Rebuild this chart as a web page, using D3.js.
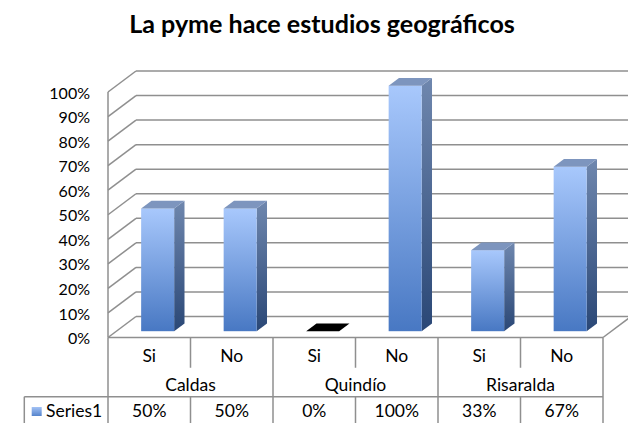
<!DOCTYPE html>
<html>
<head>
<meta charset="utf-8">
<script src="https://cdn.jsdelivr.net/npm/d3@7"></script>
<style>
  body { margin: 0; background: #fff; }
  text { font-family: Lato, "Open Sans", sans-serif; fill: #000; }
</style>
</head>
<body>
<script>
var groups = ["Caldas", "Quindío", "Risaralda"];
var answers = ["Si", "No"];
var values = [0.50, 0.50, 0.00, 1.00, 0.33, 0.67];
var seriesName = "Series1";
var title = "La pyme hace estudios geográficos";

var width = 628, height = 423;

// oblique 3d: front floor line and depth vector
var x0 = 108, x1 = 603, y0 = 337.5,
  depthX = 28, depthY = 21,
  plotH = 245.5,
  z1 = 0.3, z2 = 0.67;

var cats = [];
groups.forEach(function(g, gi) {
  answers.forEach(function(a, ai) {
    cats.push({key: g + "|" + a, group: g, answer: a, value: values[gi * answers.length + ai]});
  });
});

var x = d3.scaleBand()
  .domain(cats.map(function(d) { return d.key; }))
  .range([x0, x1])
  .paddingInner(0.6)
  .paddingOuter(0.3);

var y = d3.scaleLinear()
  .domain([0, 1])
  .range([0, plotH]);

var pct = d3.format(".0%");

function pt(px, v, z) {
  return [px + z * depthX, y0 - y(v) - z * depthY];
}

var svg = d3.select("body").append("svg")
  .attr("width", width)
  .attr("height", height);

var defs = svg.append("defs");
function grad(id, top, bottom) {
  var g = defs.append("linearGradient").attr("id", id)
    .attr("x1", 0).attr("y1", 0).attr("x2", 0).attr("y2", 1);
  g.append("stop").attr("offset", "0%").attr("stop-color", top);
  g.append("stop").attr("offset", "100%").attr("stop-color", bottom);
}
grad("front", "#a8c8fc", "#4878c3");
grad("side", "#6f87ae", "#2a4776");
grad("legend", "#a3c2f5", "#5584cc");

// title
var t = svg.append("text")
  .attr("x", 322)
  .attr("y", 33)
  .attr("text-anchor", "middle")
  .style("font-weight", "bold")
  .style("font-size", "24px")
  .text(title);
var tl = t.node().getComputedTextLength();
t.style("font-size", (24 * 386 / tl) + "px");

var ticks = y.ticks(10);
var grid = svg.append("g")
  .attr("stroke", "#8f8f8f")
  .attr("stroke-width", 1.5)
  .attr("fill", "none");

// back wall lines
grid.selectAll(".back")
  .data(ticks)
  .enter()
  .append("line")
  .attr("x1", function(d) { return pt(x0, d, 1)[0]; })
  .attr("x2", function(d) { return pt(x1, d, 1)[0] + 2; })
  .attr("y1", function(d) { return pt(x0, d, 1)[1]; })
  .attr("y2", function(d) { return pt(x0, d, 1)[1]; });

// side wall lines
grid.selectAll(".side")
  .data(ticks)
  .enter()
  .append("line")
  .attr("x1", function(d) { return pt(x0, d, 0)[0]; })
  .attr("y1", function(d) { return pt(x0, d, 0)[1]; })
  .attr("x2", function(d) { return pt(x0, d, 1)[0]; })
  .attr("y2", function(d) { return pt(x0, d, 1)[1]; });

// vertical axis line and floor edges
grid.append("line")
  .attr("x1", x0).attr("x2", x0)
  .attr("y1", pt(x0, 1, 0)[1]).attr("y2", y0);
grid.append("line")
  .attr("x1", pt(x1, 0, 0)[0]).attr("y1", pt(x1, 0, 0)[1])
  .attr("x2", pt(x1, 0, 1)[0]).attr("y2", pt(x1, 0, 1)[1]);

// y labels
svg.append("g").selectAll("text")
  .data(ticks)
  .enter()
  .append("text")
  .attr("x", 90)
  .attr("y", function(d) { return pt(x0, d, 0)[1] + 1; })
  .attr("dy", "0.35em")
  .attr("text-anchor", "end")
  .style("font-size", "16px")
  .text(pct);

// bars
var bw = x.bandwidth();
var bars = svg.append("g").selectAll("g")
  .data(cats)
  .enter()
  .append("g");

bars.append("path")
  .attr("fill", "url(#side)")
  .attr("d", function(d) {
    var bx = x(d.key) + bw;
    return "M" + [pt(bx, 0, z1), pt(bx, 0, z2), pt(bx, d.value, z2), pt(bx, d.value, z1)].join("L") + "Z";
  })
  .style("display", function(d) { return d.value > 0 ? null : "none"; });

bars.append("rect")
  .attr("fill", "url(#front)")
  .attr("x", function(d) { return pt(x(d.key), d.value, z1)[0]; })
  .attr("y", function(d) { return pt(x(d.key), d.value, z1)[1]; })
  .attr("width", bw)
  .attr("height", function(d) { return y(d.value); })
  .style("display", function(d) { return d.value > 0 ? null : "none"; });

bars.append("path")
  .attr("fill", function(d) { return d.value > 0 ? "#7d95be" : "#000"; })
  .attr("d", function(d) {
    var bx = x(d.key);
    return "M" + [pt(bx, d.value, z1), pt(bx + bw, d.value, z1), pt(bx + bw, d.value, z2), pt(bx, d.value, z2)].join("L") + "Z";
  });

// data table
var step = x.step();
var rowTop = y0, rowMid = 367.7, rowLine = 396.7, rowBottom = 430;
var table = svg.append("g")
  .attr("stroke", "#8f8f8f")
  .attr("stroke-width", 1.5);

table.append("line").attr("x1", x0).attr("x2", x1).attr("y1", rowTop).attr("y2", rowTop);
table.append("line").attr("x1", 24.3).attr("x2", x1).attr("y1", rowLine).attr("y2", rowLine);
table.append("line").attr("x1", 24.3).attr("x2", 24.3).attr("y1", rowLine).attr("y2", rowBottom);
table.append("line").attr("x1", x0).attr("x2", x0).attr("y1", rowTop).attr("y2", rowBottom);

table.selectAll(".div")
  .data(cats)
  .enter()
  .append("line")
  .attr("x1", function(d) { return x(d.key) - x.paddingOuter() * step + step; })
  .attr("x2", function(d) { return x(d.key) - x.paddingOuter() * step + step; })
  .attr("y1", rowTop)
  .attr("y2", rowBottom)
  .attr("stroke-dasharray", function(d, i) {
    return (i + 1) % answers.length === 0 ? null : (rowMid - rowTop) + "," + (rowLine - rowMid);
  });

var labels = svg.append("g").style("font-size", "17.5px").attr("text-anchor", "middle");

labels.selectAll(".ans")
  .data(cats)
  .enter()
  .append("text")
  .attr("x", function(d) { return x(d.key) + bw / 2; })
  .attr("y", 362)
  .text(function(d) { return d.answer; });

labels.selectAll(".grp")
  .data(groups)
  .enter()
  .append("text")
  .attr("x", function(d, i) { return x0 + step * answers.length * (i + 0.5); })
  .attr("y", 391)
  .text(function(d) { return d; });

labels.selectAll(".val")
  .data(cats)
  .enter()
  .append("text")
  .attr("x", function(d) { return x(d.key) + bw / 2; })
  .attr("y", 417)
  .text(function(d) { return pct(d.value); });

svg.append("rect")
  .attr("x", 31.7).attr("y", 407)
  .attr("width", 10).attr("height", 9)
  .attr("fill", "url(#legend)");

svg.append("text")
  .attr("x", 46)
  .attr("y", 417)
  .style("font-size", "17.5px")
  .text(seriesName);
</script>
</body>
</html>
